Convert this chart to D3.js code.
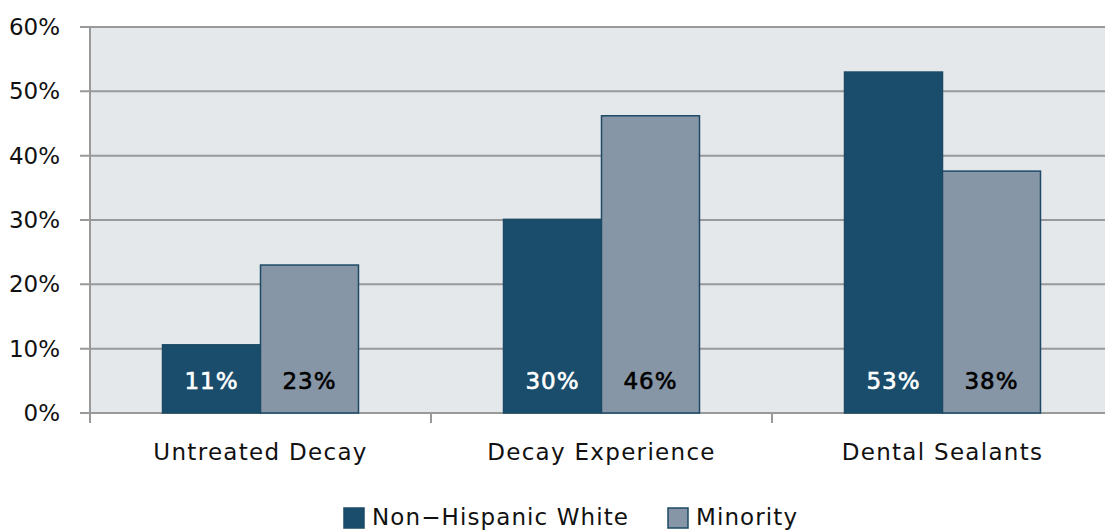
<!DOCTYPE html>
<html><head><meta charset="utf-8">
<script src="https://cdn.jsdelivr.net/npm/d3@7"></script>
<style>body{margin:0;background:#fff}svg{display:block}text{font-family:"DejaVu Sans",sans-serif}</style>
</head><body><svg id="c" width="1105" height="531"></svg>
<script>
const categories = ["Untreated Decay", "Decay Experience", "Dental Sealants"];
const seriesNames = ["Non-Hispanic White", "Minority"];
const nhw = [10.6, 30.1, 53.0];
const minority = [23.0, 46.2, 37.6];
const labelsNhw = ["11%", "30%", "53%"];
const labelsMin = ["23%", "46%", "38%"];
const yTicks = [0, 10, 20, 30, 40, 50, 60];
const colors = ["#1a4d6b", "#8796a6"];

const svg = d3.select("#c");
const x = d3.scaleBand().domain(categories).range([90, 1113]).paddingInner(0).paddingOuter(0);
const y = d3.scaleLinear().domain([0, 60]).range([413, 27]);
const xs = d3.scaleBand().domain(seriesNames).range([0, x.bandwidth()]).paddingInner(0).paddingOuter(0.74);

svg.append("rect").attr("x", 90).attr("y", y(60)).attr("width", 1113 - 90).attr("height", y(0) - y(60)).attr("fill", "#e5e8eb");

const yAxis = d3.axisLeft(y).tickValues(yTicks).tickFormat(d => d + "%").tickSize(0).tickPadding(0);
const g = svg.append("g");
yTicks.forEach(t => {
  g.append("line").attr("x1", 80).attr("x2", 1105).attr("y1", y(t)).attr("y2", y(t)).attr("stroke", "#999").attr("stroke-width", 2);
});
svg.append("line").attr("x1", 90).attr("x2", 90).attr("y1", y(60)).attr("y2", y(0) + 10).attr("stroke", "#999").attr("stroke-width", 2);
[1, 2].forEach(i => {
  const xx = x.range()[0] + i * x.step();
  svg.append("line").attr("x1", xx).attr("x2", xx).attr("y1", y(0)).attr("y2", y(0) + 10).attr("stroke", "#999").attr("stroke-width", 2);
});
const ya = svg.append("g").attr("transform", "translate(60,0)").call(yAxis);
ya.select(".domain").remove();
ya.selectAll("text").attr("font-size", 23).attr("fill", "#111").attr("font-family", "DejaVu Sans");

const data = categories.map((c, i) => ({c, vals: [nhw[i], minority[i]], labs: [labelsNhw[i], labelsMin[i]]}));
const grp = svg.selectAll("g.cat").data(data).enter().append("g").attr("class", "cat").attr("transform", d => `translate(${x(d.c)},0)`);
seriesNames.forEach((s, si) => {
  grp.append("rect").attr("x", xs(s)).attr("width", xs.bandwidth()).attr("y", d => y(d.vals[si])).attr("height", d => y(0) - y(d.vals[si]))
    .attr("fill", colors[si]).attr("stroke", "#1c4a66").attr("stroke-width", 1.5);
  grp.append("text").attr("x", xs(s) + xs.bandwidth() / 2).attr("y", 381).attr("dy", "0.35em").attr("text-anchor", "middle")
    .attr("font-size", 23).attr("letter-spacing", 1).attr("fill", si === 0 ? "#fff" : "#000")
    .attr("stroke", si === 0 ? "#fff" : "#000").attr("stroke-width", 0.6).text(d => d.labs[si]);
});

const xa = svg.append("g").attr("transform", `translate(0,${y(0)})`).call(d3.axisBottom(x).tickSize(0).tickPadding(0));
xa.select(".domain").remove();
xa.selectAll("text").attr("y", 39).attr("dy", "0.35em").attr("font-size", 23).attr("letter-spacing", 1.3).attr("fill", "#111").attr("font-family", "DejaVu Sans");

const leg = [{n: seriesNames[0], x: 344}, {n: seriesNames[1], x: 668}];
leg.forEach((l, i) => {
  svg.append("rect").attr("x", l.x).attr("y", 508).attr("width", 20).attr("height", 20).attr("fill", colors[i]).attr("stroke", "#1c4a66").attr("stroke-width", 1.5);
  svg.append("text").attr("x", l.x + 28).attr("y", 517).attr("dy", "0.35em").attr("font-size", 23).attr("letter-spacing", 1.1).attr("fill", "#111").text(l.n.replace("-", "\u2212"));
});
</script></body></html>
